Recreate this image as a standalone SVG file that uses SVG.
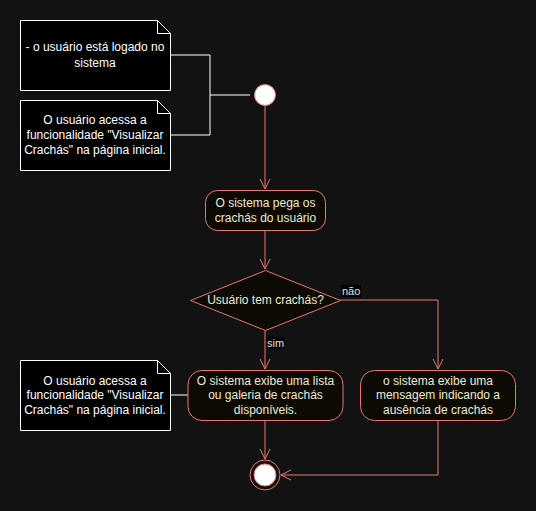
<svg xmlns="http://www.w3.org/2000/svg" width="536" height="511" viewBox="0 0 536 511">
<defs>
<style>
.note{fill:#000;stroke:#fff;stroke-width:1}
.nt{font-family:"Liberation Sans",Arial,sans-serif;font-size:12px;fill:#fff;text-anchor:middle}
.act{fill:#0c0a03;stroke:#e8776f;stroke-width:1}
.at{font-family:"Liberation Sans",Arial,sans-serif;font-size:12px;fill:#ecead0;text-anchor:middle}
.lbl{font-family:"Liberation Sans",Arial,sans-serif;font-size:11px;fill:#e0e0e0}
.ln{fill:none;stroke:#e8776f;stroke-width:1}
.nl{fill:none;stroke:#fff;stroke-width:1}
</style>
<marker id="arr" viewBox="0 0 12 12" refX="11" refY="6" markerWidth="12" markerHeight="12" markerUnits="userSpaceOnUse" orient="auto">
<path d="M1,1 L11,6 L1,11" fill="none" stroke="#e8776f" stroke-width="1"/>
</marker>
</defs>
<rect width="536" height="511" fill="#121212"/>

<g id="connectors">
<path class="nl" d="M170,55 H210 V135 H170 M210,95 H250"/>
<path class="nl" d="M170,395 H188"/>
<path class="ln" d="M265,106 V189" marker-end="url(#arr)"/>
<path class="ln" d="M265,230 V269" marker-end="url(#arr)"/>
<path class="ln" d="M265,330 V369" marker-end="url(#arr)"/>
<path class="ln" d="M340,300 H438 V369" marker-end="url(#arr)"/>
<path class="ln" d="M265,420 V459" marker-end="url(#arr)"/>
<path class="ln" d="M438,420 V475 H281" marker-end="url(#arr)"/>
<rect x="341" y="285" width="20" height="12" fill="#000"/>
<text class="lbl" x="342" y="295">não</text>
<rect x="266" y="337" width="19" height="12" fill="#000"/>
<text class="lbl" x="267" y="347">sim</text>
</g>

<g id="note1">
<path class="note" d="M20.5,20.5 H157.5 L170.5,33.5 V90.5 H20.5 Z"/>
<path class="nl" d="M157.5,20.5 V33.5 H170.5"/>
<text class="nt" x="95" y="51">- o usuário está logado no</text>
<text class="nt" x="95" y="67">sistema</text>
</g>

<g id="note2">
<path class="note" d="M20.5,100.5 H157.5 L170.5,113.5 V170.5 H20.5 Z"/>
<path class="nl" d="M157.5,100.5 V113.5 H170.5"/>
<text class="nt" x="95" y="124">O usuário acessa a</text>
<text class="nt" x="95" y="139">funcionalidade "Visualizar</text>
<text class="nt" x="95" y="154">Crachás" na página inicial.</text>
</g>

<g id="start">
<circle cx="265" cy="95" r="10.5" fill="#fff" stroke="#e8776f" stroke-width="1"/>
</g>

<g id="act1">
<rect class="act" x="205.5" y="190.5" width="120" height="40" rx="12"/>
<text class="at" x="265.5" y="207">O sistema pega os</text>
<text class="at" x="265.5" y="222">crachás do usuário</text>
</g>

<g id="decision">
<path class="act" d="M265.5,270.5 L340.5,300.5 L265.5,330.5 L190.5,300.5 Z"/>
<text class="at" x="265.5" y="304">Usuário tem crachás?</text>
</g>

<g id="act2">
<rect class="act" x="188" y="370.5" width="155" height="50" rx="14"/>
<text class="at" x="265.5" y="385">O sistema exibe uma lista</text>
<text class="at" x="265.5" y="399">ou galeria de crachás</text>
<text class="at" x="265.5" y="414">disponíveis.</text>
</g>

<g id="act3">
<rect class="act" x="360.5" y="370.5" width="155" height="50" rx="14"/>
<text class="at" x="438" y="385">o sistema exibe uma</text>
<text class="at" x="438" y="399">mensagem indicando a</text>
<text class="at" x="438" y="414">ausência de crachás</text>
</g>

<g id="note3">
<path class="note" d="M20.5,360.5 H157.5 L170.5,373.5 V430.5 H20.5 Z"/>
<path class="nl" d="M157.5,360.5 V373.5 H170.5"/>
<text class="nt" x="95" y="385">O usuário acessa a</text>
<text class="nt" x="95" y="399">funcionalidade "Visualizar</text>
<text class="nt" x="95" y="414">Crachás" na página inicial.</text>
</g>

<g id="end">
<circle cx="265" cy="475" r="15" fill="none" stroke="#e8776f" stroke-width="1"/>
<circle cx="265" cy="475" r="11" fill="#fff" stroke="#e8776f" stroke-width="1"/>
</g>
</svg>
